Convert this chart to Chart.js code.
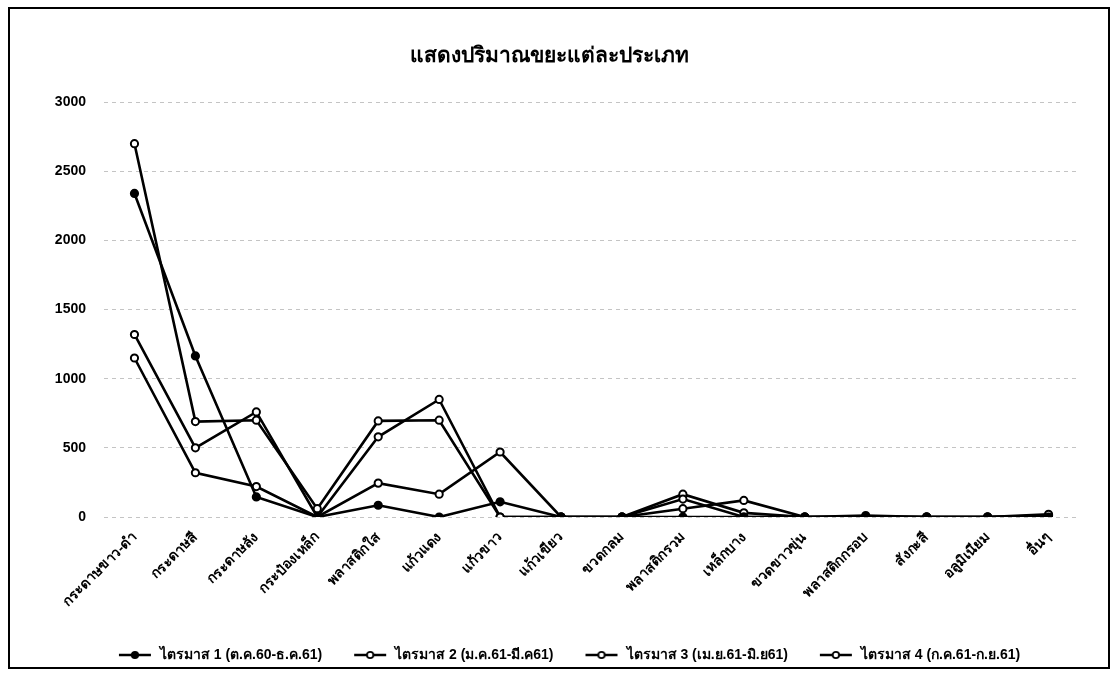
<!DOCTYPE html>
<html><head><meta charset="utf-8">
<script src="https://cdn.jsdelivr.net/npm/chart.js@4.4.1/dist/chart.umd.min.js"></script>
<style>
html,body{margin:0;padding:0;background:#fff;}
#wrap{position:relative;width:1116px;height:674px;}
</style></head>
<body><div id="wrap"><canvas id="c" width="1116" height="674"></canvas></div>
<script>
const titleText = 'แสดงปริมาณขยะแต่ละประเภท';
const categories = ['กระดาษขาว-ดำ','กระดาษสี','กระดาษลัง','กระป๋องเหล็ก','พลาสติกใส','แก้วแดง','แก้วขาว','แก้วเขียว','ขวดกลม','พลาสติกรวม','เหล็กบาง','ขวดขาวขุ่น','พลาสติกกรอบ','สังกะสี','อลูมิเนียม','อื่นๆ'];
const seriesNames = ['ไตรมาส 1 (ต.ค.60-ธ.ค.61)','ไตรมาส 2 (ม.ค.61-มี.ค61)','ไตรมาส 3 (เม.ย.61-มิ.ย61)','ไตรมาส 4 (ก.ค.61-ก.ย.61)'];
const q1 = [2340,1165,145,0,85,0,110,0,0,0,0,0,0,0,0,0];
const q2 = [2700,690,700,60,695,700,0,0,0,130,0,0,10,0,0,20];
const q3 = [1320,500,760,0,580,850,0,0,0,60,120,0,0,0,0,0];
const q4 = [1150,320,220,0,245,165,470,0,0,165,30,0,0,0,0,10];
const yTicks = [0,500,1000,1500,2000,2500,3000];

const FONT = '"Liberation Sans", "DejaVu Sans", "Noto Sans", sans-serif';
function markerCanvas(filled){
  const cv=document.createElement('canvas'); cv.width=36; cv.height=10;
  const g=cv.getContext('2d');
  g.strokeStyle='#000'; g.lineWidth=2.5;
  g.beginPath(); g.moveTo(2,5); g.lineTo(34,5); g.stroke();
  g.beginPath(); g.arc(18,5,3.2,0,Math.PI*2);
  g.fillStyle=filled?'#000':'#fff'; g.fill(); g.lineWidth=1.8; g.stroke();
  return cv;
}
const fills = ['#000','#fff','#fff','#fff'];
const sets = [q1,q2,q3,q4].map((d,i)=>({
  label: seriesNames[i], data: d,
  borderColor:'#000', backgroundColor: fills[i],
  borderWidth: 2.6, pointRadius: 3.6, pointBorderWidth: 2,
  pointBackgroundColor: fills[i], pointBorderColor:'#000', tension:0
}));

const frame = {id:'frame', afterDraw(ch){
  const g=ch.ctx; g.save(); g.strokeStyle='#000'; g.lineWidth=2;
  g.strokeRect(9,8,1100,660); g.restore();
}};
const legendShift = {id:'legendShift', afterLayout(ch){
  if(ch.legend){ ch.legend.left += 19; ch.legend.right += 19; }
}};

new Chart(document.getElementById('c'),{
  type:'line',
  data:{labels:categories, datasets:sets},
  options:{
    responsive:false, animation:false,
    layout:{padding:{top:30,left:20,right:37,bottom:2}},
    plugins:{
      title:{display:true,text:titleText,color:'#000',font:{family:FONT,size:21,weight:'bold'},padding:{top:14,bottom:33}},
      legend:{position:'bottom',labels:{color:'#000',font:{family:FONT,size:14,weight:'bold'},boxWidth:36,boxHeight:10,pointStyleWidth:36,padding:30,
        generateLabels(ch){return ch.data.datasets.map((ds,i)=>({text:ds.label,pointStyle:markerCanvas(i===0),datasetIndex:i,fontColor:'#000',lineWidth:0,strokeStyle:'rgba(0,0,0,0)',fillStyle:'rgba(0,0,0,0)'}));},
        usePointStyle:true}},
      tooltip:{enabled:false}
    },
    scales:{
      x:{offset:true,grid:{display:false},border:{display:false},
         afterFit(s){s.height=101;},
         ticks:{color:'#000',font:{family:FONT,size:14,weight:'bold'},minRotation:45,maxRotation:45,autoSkip:false,padding:4}},
      y:{min:0,max:3000,border:{display:false,dash:[4,4]},
         afterFit(s){s.width=84;},
         afterBuildTicks(s){s.ticks=yTicks.map(v=>({value:v}));},
         grid:{color:'#c4c4c4',lineWidth:1,tickLength:0,drawTicks:false},
         ticks:{color:'#000',font:{family:FONT,size:14,weight:'bold'},padding:18,callback:(v)=>String(v)}}
    }
  },
  plugins:[frame, legendShift]
});
</script></body></html>
